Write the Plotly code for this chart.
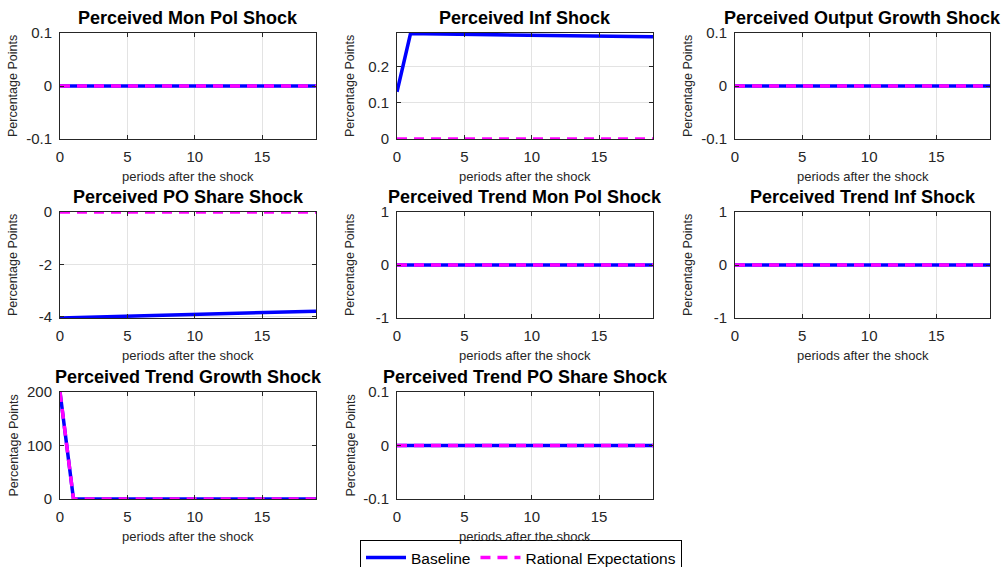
import plotly.graph_objects as go

periods = list(range(20))

ZEROS = [0, 0, 0, 0, 0, 0, 0, 0, 0, 0, 0, 0, 0, 0, 0, 0, 0, 0, 0, 0]

titles = [
    "Perceived Mon Pol Shock",
    "Perceived Inf Shock",
    "Perceived Output Growth Shock",
    "Perceived PO Share Shock",
    "Perceived Trend Mon Pol Shock",
    "Perceived Trend Inf Shock",
    "Perceived Trend Growth Shock",
    "Perceived Trend PO Share Shock",
]

mon_pol_base = ZEROS
mon_pol_re = ZEROS
inf_base = [0.130, 0.290, 0.2897, 0.2893, 0.2889, 0.2884, 0.2880, 0.2876, 0.2871, 0.2867,
            0.2862, 0.2857, 0.2852, 0.2847, 0.2842, 0.2837, 0.2832, 0.2827, 0.2822, 0.2817]
inf_re = ZEROS
out_growth_base = ZEROS
out_growth_re = ZEROS
po_share_base = [-4.05, -4.035, -4.020, -4.005, -3.990, -3.976, -3.962, -3.948, -3.934, -3.920,
                 -3.906, -3.892, -3.879, -3.866, -3.853, -3.840, -3.827, -3.814, -3.802, -3.790]
po_share_re = ZEROS
trend_mon_pol_base = ZEROS
trend_mon_pol_re = ZEROS
trend_inf_base = ZEROS
trend_inf_re = ZEROS
trend_growth_base = [200, 0, 0, 0, 0, 0, 0, 0, 0, 0, 0, 0, 0, 0, 0, 0, 0, 0, 0, 0]
trend_growth_re = [200, 0, 0, 0, 0, 0, 0, 0, 0, 0, 0, 0, 0, 0, 0, 0, 0, 0, 0, 0]
trend_po_share_base = ZEROS
trend_po_share_re = ZEROS

base_series = [mon_pol_base, inf_base, out_growth_base, po_share_base,
               trend_mon_pol_base, trend_inf_base, trend_growth_base, trend_po_share_base]
re_series = [mon_pol_re, inf_re, out_growth_re, po_share_re,
             trend_mon_pol_re, trend_inf_re, trend_growth_re, trend_po_share_re]

y_ranges = [[-0.1, 0.1], [0, 0.292], [-0.1, 0.1], [-4.05, 0],
            [-1, 1], [-1, 1], [0, 200], [-0.1, 0.1]]
y_ticks = [[-0.1, 0, 0.1], [0, 0.1, 0.2], [-0.1, 0, 0.1], [-4, -2, 0],
           [-1, 0, 1], [-1, 0, 1], [0, 100, 200], [-0.1, 0, 0.1]]
y_ticktext = [["-0.1", "0", "0.1"], ["0", "0.1", "0.2"], ["-0.1", "0", "0.1"], ["-4", "-2", "0"],
              ["-1", "0", "1"], ["-1", "0", "1"], ["0", "100", "200"], ["-0.1", "0", "0.1"]]
x_ticks = [0, 5, 10, 15]

W, H = 1006, 567
col_px = [(60, 316), (397, 653), (735, 990)]
row_px = [(33, 139), (212, 318), (392, 499)]

FONT = "Liberation Sans, Arial, Helvetica, sans-serif"
AXC = "#262626"

fig = go.Figure()
annotations = []

for i in range(8):
    r, c = divmod(i, 3)
    x0, x1 = col_px[c]
    y0, y1 = row_px[r]
    n = "" if i == 0 else str(i + 1)
    xa = "x" + n
    ya = "y" + n
    fig.add_trace(go.Scatter(x=periods, y=base_series[i], mode="lines",
                             line=dict(color="#0000FF", width=3.5),
                             name="Baseline", showlegend=(i == 0),
                             xaxis=xa, yaxis=ya))
    fig.add_trace(go.Scatter(x=periods, y=re_series[i], mode="lines",
                             line=dict(color="#FF00FF", width=3.5, dash="10px,7px"),
                             name="Rational Expectations", showlegend=(i == 0),
                             xaxis=xa, yaxis=ya))
    common = dict(showline=True, linecolor=AXC, linewidth=1, mirror="ticks",
                  ticks="inside", ticklen=4, tickcolor=AXC, showgrid=True,
                  gridcolor="#e3e3e3", gridwidth=1, zeroline=False,
                  tickfont=dict(family=FONT, size=15, color=AXC))
    fig.update_layout(**{
        ("xaxis" + n): dict(domain=[x0 / W, x1 / W], range=[0, 19], tickvals=x_ticks,
                            anchor=ya, ticklabelstandoff=4, **common),
        ("yaxis" + n): dict(domain=[1 - y1 / H, 1 - y0 / H], range=y_ranges[i],
                            tickvals=y_ticks[i], ticktext=y_ticktext[i],
                            anchor=xa, ticklabelstandoff=4, **common),
    })
    cx = (x0 + x1) / 2 / W
    annotations.append(dict(text="<b>" + titles[i] + "</b>", x=cx, y=1 - (y0 - 3) / H,
                            xref="paper", yref="paper", xanchor="center", yanchor="bottom",
                            showarrow=False, font=dict(family=FONT, size=18, color="#000000")))
    annotations.append(dict(text="periods after the shock", x=cx, y=1 - (y1 + 37) / H,
                            xref="paper", yref="paper", xanchor="center", yanchor="middle",
                            showarrow=False, font=dict(family=FONT, size=13, color=AXC)))
    annotations.append(dict(text="Percentage Points", x=(x0 - 47) / W, y=1 - (y0 + y1) / 2 / H,
                            xref="paper", yref="paper", xanchor="center", yanchor="middle",
                            textangle=-90, showarrow=False,
                            font=dict(family=FONT, size=12.5, color=AXC)))

fig.update_layout(
    width=W, height=H,
    margin=dict(l=0, r=0, t=0, b=0, autoexpand=False),
    paper_bgcolor="white", plot_bgcolor="white",
    annotations=annotations,
    showlegend=True,
    legend=dict(orientation="h", x=521 / W, xanchor="center", y=1 - 540 / H, yanchor="top",
                bordercolor="#000000", borderwidth=1, bgcolor="white",
                font=dict(family=FONT, size=15.5, color="#000000"),
                itemwidth=40, tracegroupgap=0),
)

fig.write_html(
    "out.html",
    config={"displayModeBar": False},
    post_script="document.body.style.margin='0';document.body.style.overflow='hidden';",
)
